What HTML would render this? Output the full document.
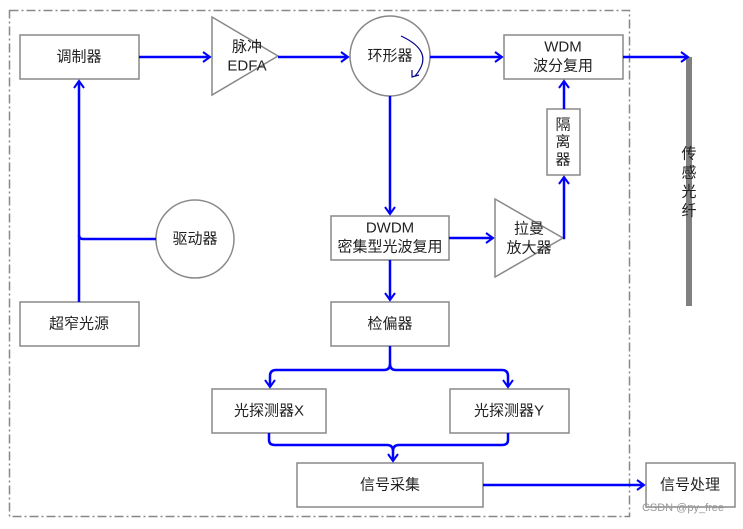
<!DOCTYPE html>
<html><head><meta charset="utf-8"><style>
body{margin:0;background:#fff}
svg text{font-family:"Liberation Sans","Noto Sans CJK SC",sans-serif;font-size:15px;fill:#222;text-anchor:middle;dominant-baseline:central}
</style></head><body>
<svg width="743" height="524" viewBox="0 0 743 524" xmlns="http://www.w3.org/2000/svg">
<defs><marker id="a" markerWidth="10" markerHeight="12" refX="8" refY="6" orient="auto" markerUnits="userSpaceOnUse"><path d="M1,1 L8,6 L1,11" fill="none" stroke="#0000ff" stroke-width="2"/></marker></defs>
<rect x="9.5" y="10.5" width="620" height="506" fill="none" stroke="#888" stroke-width="1.5" stroke-dasharray="9,3,2,3"/>
<g fill="#fff" stroke="#888" stroke-width="1.5">
<rect x="20" y="35" width="119" height="44"/>
<polygon points="212,17 278,56 212,95"/>
<circle cx="390" cy="56" r="40"/>
<rect x="504" y="35" width="119" height="44"/>
<rect x="547" y="109" width="33" height="66"/>
<rect x="331" y="216" width="118" height="44"/>
<polygon points="495,199 563,238 495,277"/>
<circle cx="195" cy="239" r="39"/>
<rect x="20" y="302" width="119" height="44"/>
<rect x="331" y="302" width="118" height="44"/>
<rect x="212" y="389" width="114" height="44"/>
<rect x="450" y="389" width="119" height="44"/>
<rect x="297" y="463" width="186" height="44"/>
<rect x="646" y="463" width="89" height="44"/>
</g>
<line x1="689" y1="57" x2="689" y2="306" stroke="#808080" stroke-width="6"/>
<g fill="none" stroke="#0000ff" stroke-width="2.5">
<path d="M139,57 H210" marker-end="url(#a)"/>
<path d="M278,57 H348" marker-end="url(#a)"/>
<path d="M430,57 H502" marker-end="url(#a)"/>
<path d="M623,57 H688" marker-end="url(#a)"/>
<path d="M79,302 V81" marker-end="url(#a)"/>
<path d="M156,239 H83 Q79,239 79,235"/>
<path d="M390,96 V214" marker-end="url(#a)"/>
<path d="M449,238 H493" marker-end="url(#a)"/>
<path d="M563,238 H564 V177" marker-end="url(#a)"/>
<path d="M564,109 V81" marker-end="url(#a)"/>
<path d="M390,260 V300" marker-end="url(#a)"/>
<path d="M390,346 V364 Q390,370 384,370 H276 Q270,370 270,376 V387" marker-end="url(#a)"/>
<path d="M390,364 Q390,370 396,370 H502 Q508,370 508,376 V387" marker-end="url(#a)"/>
<path d="M269,433 V440 Q269,445 275,445 H387 Q393,445 393,451 V461" marker-end="url(#a)"/>
<path d="M508,433 V440 Q508,445 502,445 H399 Q393,445 393,451"/>
<path d="M483,485 H644" marker-end="url(#a)"/>
</g>
<path d="M401,36 Q436,52 415,76" fill="none" stroke="#00008b" stroke-width="1.2"/>
<path d="M412,70 L412,77 L419,75" fill="none" stroke="#00008b" stroke-width="1.2"/>
<text x="79" y="57">调制器</text>
<text x="247" y="47">脉冲</text>
<text x="247" y="66">EDFA</text>
<text x="390" y="56">环形器</text>
<text x="563" y="47">WDM</text>
<text x="563" y="66">波分复用</text>
<text x="563" y="125">隔</text>
<text x="563" y="142">离</text>
<text x="563" y="160">器</text>
<text x="689" y="154">传</text>
<text x="689" y="173">感</text>
<text x="689" y="192">光</text>
<text x="689" y="211">纤</text>
<text x="390" y="228">DWDM</text>
<text x="390" y="247">密集型光波复用</text>
<text x="529" y="229">拉曼</text>
<text x="529" y="248">放大器</text>
<text x="195" y="239">驱动器</text>
<text x="79" y="324">超窄光源</text>
<text x="390" y="324">检偏器</text>
<text x="269" y="411">光探测器X</text>
<text x="509" y="411">光探测器Y</text>
<text x="390" y="485">信号采集</text>
<text x="690" y="485">信号处理</text>
<text x="683" y="508" style="font-size:11px;fill:#999">CSDN @py_free</text>
</svg>
</body></html>
